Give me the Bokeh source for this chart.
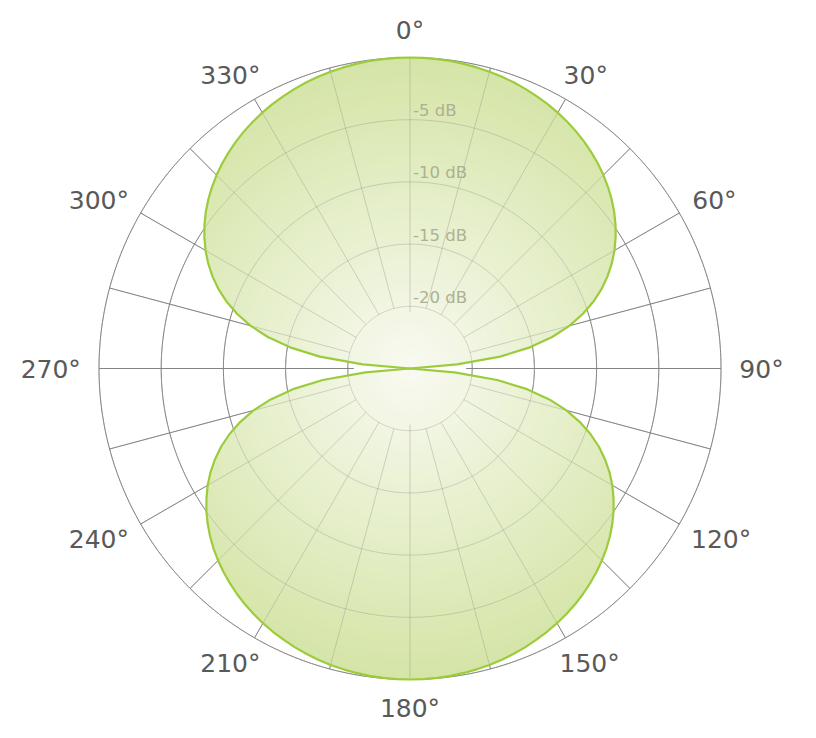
import numpy as np
from bokeh.plotting import figure
from bokeh.models import Range1d
from bokeh.core.properties import value
from bokeh.embed import file_html
from bokeh.resources import INLINE

# ---- data ----
# front lobe: angle in degrees (0 = top, clockwise) and level in dB
front_deg = [-90, -87.5, -85, -82.5, -80, -77.5, -75, -72.5, -70, -67.5, -65, -62.5, -60, -57.5, -55, -52.5,
             -50, -47.5, -45, -42.5, -40, -37.5, -35, -32.5, -30, -27.5, -25, -22.5, -20, -17.5, -15, -12.5,
             -10, -7.5, -5, -2.5, 0, 2.5, 5, 7.5, 10, 12.5, 15, 17.5, 20, 22.5, 25, 27.5, 30, 32.5, 35, 37.5,
             40, 42.5, 45, 47.5, 50, 52.5, 55, 57.5, 60, 62.5, 65, 67.5, 70, 72.5, 75, 77.5, 80, 82.5, 85, 87.5, 90]
front_db = [-25.0, -25.0, -21.19, -17.69, -15.21, -13.29, -11.74, -10.44, -9.32, -8.34, -7.48, -6.71, -6.02, -5.40, -4.83, -4.31,
            -3.84, -3.41, -3.01, -2.65, -2.32, -2.01, -1.73, -1.48, -1.25, -1.04, -0.86, -0.69, -0.54, -0.41, -0.30, -0.21,
            -0.13, -0.07, -0.03, -0.01, 0.0, -0.01, -0.03, -0.07, -0.13, -0.21, -0.30, -0.41, -0.54, -0.69, -0.86, -1.04, -1.25, -1.48, -1.73, -2.01,
            -2.32, -2.65, -3.01, -3.41, -3.84, -4.31, -4.83, -5.40, -6.02, -6.71, -7.48, -8.34, -9.32, -10.44, -11.74, -13.29, -15.21, -17.69, -21.19, -25.0, -25.0]
# back lobe
back_deg = [90, 92.5, 95, 97.5, 100, 102.5, 105, 107.5, 110, 112.5, 115, 117.5, 120, 122.5, 125, 127.5,
            130, 132.5, 135, 137.5, 140, 142.5, 145, 147.5, 150, 152.5, 155, 157.5, 160, 162.5, 165, 167.5,
            170, 172.5, 175, 177.5, 180, 182.5, 185, 187.5, 190, 192.5, 195, 197.5, 200, 202.5, 205, 207.5, 210, 212.5, 215, 217.5,
            220, 222.5, 225, 227.5, 230, 232.5, 235, 237.5, 240, 242.5, 245, 247.5, 250, 252.5, 255, 257.5, 260, 262.5, 265, 267.5, 270]
back_db = [-25.0, -25.0, -21.4, -17.93, -15.45, -13.53, -11.98, -10.68, -9.55, -8.56, -7.70, -6.92, -6.22, -5.60, -5.02, -4.50,
           -4.02, -3.58, -3.18, -2.81, -2.47, -2.15, -1.86, -1.60, -1.36, -1.14, -0.95, -0.76, -0.60, -0.45, -0.33, -0.23,
           -0.15, -0.08, -0.04, -0.01, 0.0, -0.01, -0.04, -0.08, -0.15, -0.23, -0.33, -0.45, -0.60, -0.76, -0.95, -1.14, -1.36, -1.60, -1.86, -2.15,
           -2.47, -2.81, -3.18, -3.58, -4.02, -4.50, -5.02, -5.60, -6.22, -6.92, -7.70, -8.56, -9.55, -10.68, -11.98, -13.53, -15.45, -17.93, -21.4, -25.0, -25.0]

ring_db = [-20, -15, -10, -5, 0]
ring_labels = ["-20 dB", "-15 dB", "-10 dB", "-5 dB"]
angle_ticks = [0, 30, 60, 90, 120, 150, 180, 210, 240, 270, 300, 330]
angle_labels = ["0°", "30°", "60°", "90°", "120°", "150°", "180°", "210°", "240°", "270°", "300°", "330°"]
spoke_step = 15
FLOOR_DB = -25.0

# ---- geometry ----
W, H = 812, 734
CX, CY = 409.5, 368.0          # centre in figure pixels (from top-left)
R_PX = 311.0
K = R_PX / (0 - FLOOR_DB)      # pixels per dB unit

p = figure(width=W, height=H, output_backend="svg", toolbar_location=None,
           x_range=Range1d(-CX / K, (W - CX) / K), y_range=Range1d(-(H - CY) / K, CY / K),
           min_border=0, background_fill_color="white", border_fill_color="white")
p.outline_line_color = None
p.axis.visible = False
p.grid.visible = False


def polar(deg, r):
    t = np.radians(np.asarray(deg, dtype=float))
    r = np.asarray(r, dtype=float)
    return r * np.sin(t), r * np.cos(t)


# grid geometry
rmax = 0 - FLOOR_DB
ring_xs, ring_ys = [], []
fine = np.linspace(0, 360, 721)
for d in ring_db:
    x, y = polar(fine, np.full(fine.shape, d - FLOOR_DB))
    ring_xs.append(list(x)); ring_ys.append(list(y))
sp_xs, sp_ys = [], []
inner = ring_db[0] - FLOOR_DB
for a in range(0, 360, spoke_step):
    r0 = inner - 6.0 / K if a % 90 == 0 else inner
    x, y = polar([a, a], [r0, rmax])
    sp_xs.append(list(x)); sp_ys.append(list(y))

GRID = "#858585"


def draw_grid(alpha):
    p.multi_line(ring_xs, ring_ys, line_color=GRID, line_width=1, line_alpha=alpha)
    p.multi_line(sp_xs, sp_ys, line_color=GRID, line_width=1, line_alpha=alpha)


draw_grid(1.0)

# gradient-filled lobes (radial gradient made of nested clipped layers)
c_center = np.array([249, 250, 242])
c_edge = np.array([213, 229, 167])
lobes = [(front_deg, np.array(front_db) - FLOOR_DB), (back_deg, np.array(back_db) - FLOOR_DB)]
N = 48
pxs, pys, cols = [], [], []
for k in range(N, 0, -1):
    Rk = rmax * k / N
    t = Rk / rmax
    c = (c_center + (c_edge - c_center) * t).round().astype(int)
    col = "#%02x%02x%02x" % tuple(c)
    for deg, r in lobes:
        x, y = polar(deg, np.minimum(r, Rk))
        pxs.append(list(x)); pys.append(list(y)); cols.append(col)
p.patches(pxs, pys, fill_color=cols, line_color=None)

# grid seen through the translucent fill
draw_grid(0.33)

# lobe outlines
oxs, oys = [], []
for deg, r in lobes:
    x, y = polar(deg, r)
    oxs.append(list(x) + [x[0]]); oys.append(list(y) + [y[0]])
p.multi_line(oxs, oys, line_color="#9ccb3c", line_width=2.2, line_join="round")

# dB labels along the 0° spoke
p.text(x=[3.0 / K] * len(ring_labels), y=[d - FLOOR_DB + 9.0 / K for d in ring_db[:-1]], text=ring_labels,
       text_font=value("DejaVu Sans"), text_font_size="16.5px", text_color="#acb192",
       text_align="left", text_baseline="alphabetic")

# angle labels around the outside
GAP = 19.0
TH = 18.0
lx, ly = [], []
for a, lab in zip(angle_ticks, angle_labels):
    s, c = np.sin(np.radians(a)), np.cos(np.radians(a))
    w = 15.5 * (len(lab) - 1) + 12
    ax, ay = (R_PX + GAP) * s, (R_PX + GAP) * c
    cx, cy = ax + s * w / 2, ay + c * TH / 2
    lx.append(cx / K); ly.append((cy - TH / 2 + 8.0) / K)
p.text(x=lx, y=ly, text=angle_labels, text_font=value("DejaVu Sans"), text_font_size="25px",
       text_color="#595959", text_align="center", text_baseline="alphabetic")

open("out.html", "w").write(file_html(p, INLINE))
